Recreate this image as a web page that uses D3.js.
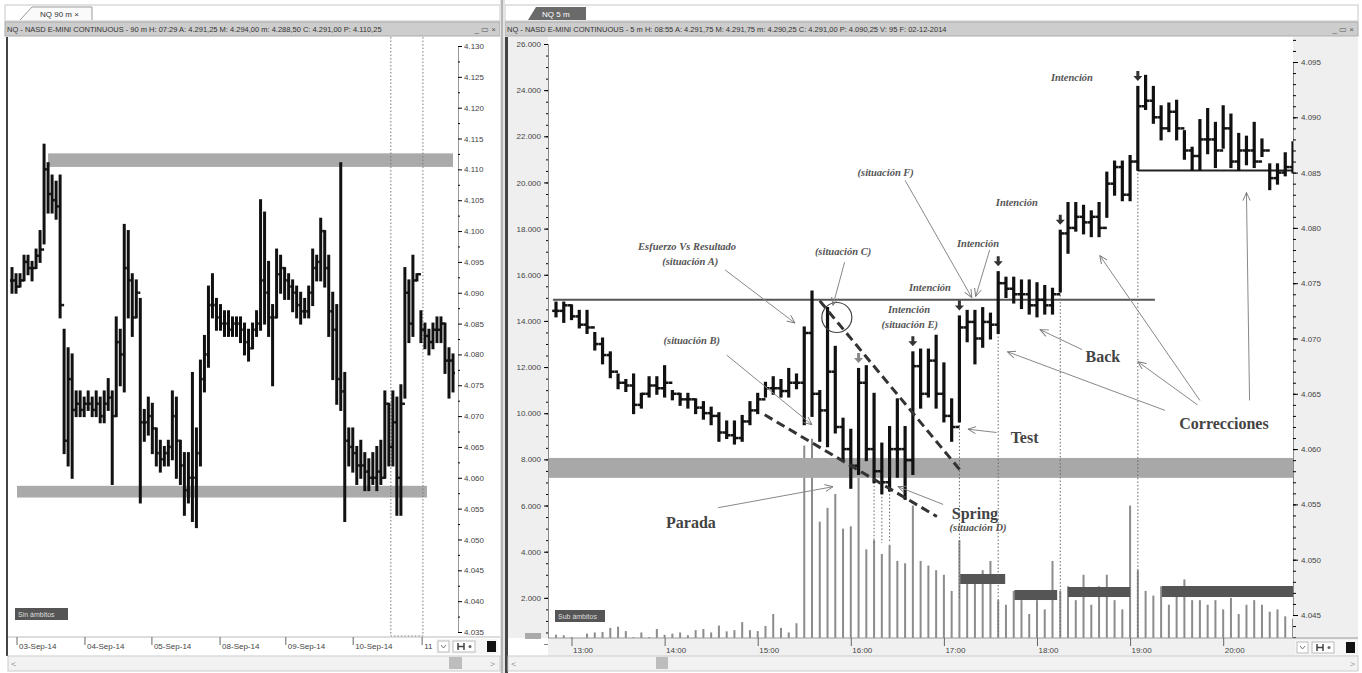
<!DOCTYPE html>
<html>
<head>
<meta charset="utf-8">
<script src="https://cdn.jsdelivr.net/npm/d3@7"></script>
<style>
  body { margin: 0; background: #fff; }
  svg { display: block; }
</style>
</head>
<body>
<svg id="chart" width="1362" height="673"></svg>
<script>
// ---------- data: left panel (NQ 90 m) ----------
const leftHigh = [4094,4093,4093,4096,4096,4095,4097,4100,4114,4111,4109,4108,4109,4084,4081,4080,4074,4074,4073,4074,4073,4074,4073,4074,4076,4074,4086,4084,4101,4100,4093,4092,4089,4071,4073,4072,4068,4066,4065,4066,4074,4073,4066,4064,4064,4077,4068,4079,4083,4091,4093,4089,4088,4087,4087,4086,4086,4086,4085,4084,4085,4087,4105,4103,4095,4088,4097,4096,4094,4093,4092,4091,4090,4089,4091,4097,4096,4102,4100,4096,4090,4088,4111,4077,4068,4068,4065,4066,4064,4063,4064,4065,4066,4074,4072,4074,4073,4075,4094,4092,4096,4093,4087,4085,4084,4085,4086,4086,4085,4081,4080];
const leftLow = [4090,4090,4091,4092,4093,4092,4094,4095,4098,4103,4103,4102,4086,4064,4062,4060,4070,4070,4070,4071,4070,4070,4069,4069,4071,4059,4070,4075,4074,4086,4083,4086,4056,4066,4067,4064,4062,4061,4062,4062,4063,4060,4059,4054,4056,4053,4052,4062,4074,4078,4086,4084,4084,4083,4083,4083,4083,4082,4080,4079,4081,4083,4084,4085,4083,4075,4086,4090,4089,4089,4087,4086,4085,4086,4086,4088,4092,4092,4091,4083,4076,4072,4071,4053,4062,4061,4059,4060,4058,4058,4059,4058,4059,4060,4062,4062,4054,4054,4073,4082,4083,4092,4082,4081,4080,4081,4082,4082,4077,4073,4074];
const leftClose = [4092,4091,4092,4095,4094,4094,4096,4097,4110,4106,4105,4104,4088,4066,4076,4071,4072,4071,4072,4072,4071,4072,4070,4072,4073,4070,4082,4080,4094,4092,4086,4090,4069,4069,4070,4068,4064,4063,4064,4065,4070,4066,4062,4058,4060,4060,4064,4076,4080,4088,4088,4086,4085,4085,4084,4085,4085,4084,4082,4081,4084,4085,4092,4090,4086,4086,4093,4094,4092,4091,4090,4088,4087,4087,4090,4094,4095,4100,4094,4087,4084,4076,4074,4066,4065,4064,4062,4062,4061,4060,4060,4061,4060,4072,4065,4069,4060,4072,4090,4085,4092,4093,4084,4083,4082,4084,4084,4085,4079,4079,4077];
const leftDateLabels = ['03-Sep-14','04-Sep-14','05-Sep-14','08-Sep-14','09-Sep-14','10-Sep-14','11'];
const leftDateBars = [1.25, 18.2, 34.9, 51.9, 68.3, 85.1, 102.3];
const leftPriceTicks = d3.range(4035, 4131, 5);
// grey zones: [fromBar, toBar, lowPrice, highPrice]
const leftZones = [[9, 110, 4110.4, 4112.6], [1.25, 103.5, 4056.8, 4058.7]];
const leftBox = [94.5, 102.5];

// ---------- data: right panel (NQ 5 m) ----------
const rightHigh = [4073.25,4073.25,4073,4072.5,4072.5,4070.5,4070,4068.75,4066.75,4066.25,4066.75,4065,4066.5,4066.5,4067.5,4065.25,4065,4065,4064.5,4064.25,4063.75,4063.25,4062.5,4062.5,4063,4064.25,4065,4066,4066.5,4066.25,4067.25,4066.75,4071,4074.25,4065.25,4072.75,4069.25,4062.75,4061.75,4067.25,4067.5,4065,4060.5,4062,4064.5,4062,4068.75,4069,4069,4070.25,4067.75,4064.5,4072,4072.5,4072.5,4072.75,4072.25,4076,4075.5,4075.5,4075.25,4075.25,4075,4074.75,4074.5,4079.75,4082.25,4082.25,4082,4081.5,4082.25,4085,4086,4086,4086.5,4092.75,4093.75,4092.75,4091,4091.25,4091.5,4088.75,4087.25,4089.75,4090.75,4089.5,4091,4090.25,4088.5,4088.25,4089.5,4088,4085.75,4085.75,4086.75,4087.75];
const rightLow = [4072,4071.5,4071.75,4071,4070.5,4069,4067.75,4066.5,4065.5,4065.25,4063.25,4063.75,4064.75,4065,4064.75,4064.5,4064,4063.75,4063.25,4062.75,4062.25,4060.75,4061,4060.5,4060.75,4062.25,4063.25,4064.75,4065,4064.75,4064.75,4065.5,4062.25,4063,4060.75,4060.25,4061.5,4059,4056.5,4057.75,4059,4057,4056,4056.25,4057.5,4055.5,4057.75,4063.75,4064.75,4063.75,4062.5,4060.75,4062.5,4069.75,4067.75,4069.25,4070,4070.5,4073.75,4073.25,4072.75,4072.25,4072,4072.25,4072.25,4074.25,4077.75,4079.75,4079.5,4079.25,4079.25,4081,4083,4082.5,4082.5,4085.25,4090.75,4089.5,4088,4088.75,4088,4086.25,4085.25,4085.25,4086.75,4085.5,4087.25,4085.5,4085.25,4085.75,4085.5,4086.5,4083.5,4084,4084.75,4085];
const rightClose = [4072.5,4073,4072,4071.25,4071,4069.5,4068.5,4067,4066,4065.75,4064,4065,4065.75,4065.5,4066,4065,4064.5,4064.5,4063.75,4063.25,4063,4061.5,4061.25,4061,4062.5,4063.5,4064.5,4065.5,4065.5,4065.25,4066,4066,4070.5,4065,4063.5,4067,4062,4060,4058.5,4066,4060,4058,4057,4060,4060,4059,4067.5,4065,4068,4065,4063,4062,4071,4071.5,4070,4071.5,4071.25,4075,4074.5,4074,4074,4073,4073.5,4073,4074,4079.5,4080,4081,4080.5,4081,4080,4084,4085.5,4083,4086,4091,4091.5,4090,4089,4090.5,4089,4087,4086.5,4088,4088,4087,4089,4086,4087,4087,4086,4087,4084.5,4085,4085.5,4087];
const rightVolume = [400,380,300,250,450,500,520,700,750,560,300,500,300,650,400,450,500,380,600,650,500,800,550,600,950,600,560,780,1300,700,500,900,8600,8900,5300,5900,6500,5000,5100,7200,4100,4500,3900,4300,3600,3500,6000,3600,3400,3200,3000,2300,4500,3000,2800,3200,3600,1900,1700,2300,1900,1300,1900,1500,3600,2300,2500,1900,3000,1700,2500,3000,1900,1500,6000,3200,2300,2100,2500,1700,2100,2800,1900,1900,1700,1900,1500,2000,1300,1700,1900,1700,1400,1500,1200,1100];
const rightPriceTicks = d3.range(4045, 4096, 5);
const volumeTicks = d3.range(2000, 26001, 2000);
const firstBarTime = new Date(2014, 11, 2, 12, 50);

// annotation layer, in [bar, price]
const supportLines = [[-0.4, 77.2, 4073.5, '#555'], [75, 95.5, 4085.2, '#222']];
const rightZone = [4057.4, 4059.2];
const dashedLines = [[34.0, 4073.4, 52.1, 4058.1], [26.9, 4063.1, 49.1, 4053.9]];
const circleMark = [36.2, 4071.9];
const intentBars = [39, 46, 52, 57, 65, 75];
const dottedBars = [[41, 4051.5], [42, 4051.5], [43, 4051.5], [52, 4046.5], [57, 4042.5], [65, 4041.5], [75, 4041.5]];
const arrows = [
  [21.8, 4076.2, 30.8, 4071.4], [22.0, 4068.5, 33.0, 4062.2], [37.2, 4076.9, 35.7, 4073.0],
  [45.0, 4084.3, 53.6, 4073.7], [55.9, 4078.0, 54.1, 4073.8], [20.9, 4054.7, 35.7, 4056.6],
  [49.9, 4055.0, 44.1, 4056.6], [56.8, 4061.5, 53.1, 4061.8], [67.8, 4069.0, 62.4, 4070.8],
  [78.5, 4063.5, 58.2, 4068.8], [82.7, 4064.0, 75.0, 4067.9], [83.0, 4064.4, 70.1, 4077.5],
  [89.4, 4064.4, 89.0, 4083.2]
];
const smallNotes = [
  ['Esfuerzo Vs Resultado', 16.9, 4078.3], ['(situación A)', 17.3, 4077.0], ['(situación B)', 17.5, 4069.8],
  ['(situación C)', 37.0, 4077.9], ['(situación F)', 42.5, 4085.0], ['Intención', 66.5, 4093.6],
  ['Intención', 59.4, 4082.3], ['Intención', 54.4, 4078.6], ['Intención', 48.2, 4074.6],
  ['Intención', 45.5, 4072.6], ['(situación E)', 45.6, 4071.3], ['(situación D)', 54.4, 4052.9]
];
const bigNotes = [
  ['Test', 60.4, 4061.1], ['Spring', 54.0, 4054.2], ['Parada', 17.4, 4053.4],
  ['Back', 70.5, 4068.4], ['Correcciones', 86.1, 4062.3]
];
// dark volume level boxes: [fromBar, toBar, volLow, volHigh]
const volumeBoxes = [[52.1, 57.9, 2600, 3033], [59.1, 64.6, 1906, 2340], [66.0, 74.0, 2036, 2470], [78.1, 95, 2036, 2513]];

const loc = d3.formatLocale({decimal: ',', thousands: '.', grouping: [3], currency: ['', '']});
const fmt = loc.format(',');
const svg = d3.select('#chart');
const sans = 'Liberation Sans, Arial, sans-serif';
const serif = 'Liberation Serif, Times New Roman, serif';

// ---------- window chrome ----------
function chrome(x0, x1, title, tabX, tabText, darkTab) {
  svg.append('rect').attr('x', x0).attr('y', 5).attr('width', x1 - x0).attr('height', 16)
    .attr('fill', '#fff').attr('stroke', '#c8c8c8');
  if (darkTab) {
    svg.append('path').attr('d', `M${tabX},20 L${tabX + 8},7 L${tabX + 58},7 L${tabX + 58},20 Z`).attr('fill', '#6a6a6a');
    svg.append('text').attr('x', tabX + 14).attr('y', 17).attr('fill', '#fff').attr('font-size', 8).attr('font-family', sans).text(tabText);
  } else {
    svg.append('path').attr('d', `M${tabX},20 L${tabX + 12},7 L${tabX + 72},7 L${tabX + 72},20`).attr('fill', '#fafafa').attr('stroke', '#999');
    svg.append('text').attr('x', tabX + 20).attr('y', 17).attr('fill', '#333').attr('font-size', 8).attr('font-family', sans).text(tabText);
  }
  svg.append('rect').attr('x', x0).attr('y', 22).attr('width', x1 - x0).attr('height', 14)
    .attr('fill', '#cdcdcd').attr('stroke', '#aaa');
  svg.append('text').attr('x', x0 + 2).attr('y', 32).attr('font-size', 7.5).attr('font-family', sans)
    .attr('fill', '#333').text(title);
  svg.append('text').attr('x', x1 - 4).attr('y', 32).attr('text-anchor', 'end').attr('font-size', 8)
    .attr('font-family', sans).attr('fill', '#555').text('_ ▭ ×');
}
chrome(5, 500, 'NQ - NASD E-MINI CONTINUOUS - 90 m  H: 07:29  A: 4.291,25  M: 4.294,00  m: 4.288,50  C: 4.291,00  P: 4.110,25', 20, 'NQ 90 m  ×', false);
chrome(505, 1358, 'NQ - NASD E-MINI CONTINUOUS - 5 m  H: 08:55  A: 4.291,75  M: 4.291,75  m: 4.290,25  C: 4.291,00  P: 4.090,25  V: 95  F: 02-12-2014', 528, 'NQ 5 m', true);
svg.append('rect').attr('x', 500).attr('y', 0).attr('width', 5).attr('height', 673).attr('fill', '#e4e4e4');
svg.append('line').attr('x1', 502).attr('x2', 502).attr('y1', 0).attr('y2', 673).attr('stroke', '#888');

// small zoom controls in the bottom right corner of a panel (drawn as shapes)
function controls(x, y) {
  const g = svg.append('g').attr('transform', `translate(${x},${y})`);
  g.append('rect').attr('width', 62).attr('height', 15).attr('fill', '#f6f6f6');
  g.append('rect').attr('x', 2).attr('y', 2).attr('width', 11).attr('height', 11).attr('fill', '#fff').attr('stroke', '#bbb');
  g.append('path').attr('d', 'M5,6 l2.5,3 l2.5,-3').attr('fill', 'none').attr('stroke', '#777');
  g.append('rect').attr('x', 17).attr('y', 2).attr('width', 22).attr('height', 11).attr('fill', '#fff').attr('stroke', '#bbb');
  g.append('path').attr('d', 'M22,4 v7 M22,7.5 h6 M28,4 v7').attr('stroke', '#444').attr('stroke-width', 1.5);
  g.append('circle').attr('cx', 34).attr('cy', 7.5).attr('r', 1.5).attr('fill', '#666');
  g.append('rect').attr('x', 51).attr('y', 2).attr('width', 9).attr('height', 11).attr('fill', '#111');
}

// OHLC bars drawn as vertical line + open/close ticks
function drawOHLC(g, x, y, hi, lo, cl, tick, width) {
  const bars = d3.range(hi.length).map(i => ({i, h: hi[i], l: lo[i], c: cl[i], o: i ? cl[i - 1] : cl[i]}));
  const sel = g.selectAll('g.bar').data(bars).join('g').attr('class', 'bar');
  sel.append('line').attr('x1', d => x(d.i)).attr('x2', d => x(d.i))
    .attr('y1', d => y(d.h) - 1).attr('y2', d => y(d.l) + 1)
    .attr('stroke', '#111').attr('stroke-width', width);
  sel.append('line').attr('x1', d => x(d.i) - tick).attr('x2', d => x(d.i))
    .attr('y1', d => y(d.o)).attr('y2', d => y(d.o)).attr('stroke', '#111').attr('stroke-width', 2.5);
  sel.append('line').attr('x1', d => x(d.i)).attr('x2', d => x(d.i) + tick)
    .attr('y1', d => y(d.c)).attr('y2', d => y(d.c)).attr('stroke', '#111').attr('stroke-width', 2.5);
}

// ---------- left panel ----------
const lx = d3.scaleLinear().domain([0, leftHigh.length - 1]).range([12, 453]);
const ly = d3.scaleLinear().domain([4035, 4130]).range([632, 46]);
const left = svg.append('g');
left.append('rect').attr('x', 6).attr('y', 37).attr('width', 2).attr('height', 619).attr('fill', '#444');
left.append('defs').append('clipPath').attr('id', 'clipL').append('rect')
  .attr('x', 8).attr('y', 37).attr('width', 450).attr('height', 600);
const lPlot = left.append('g').attr('clip-path', 'url(#clipL)');

lPlot.selectAll('rect.zone').data(leftZones).join('rect').attr('class', 'zone')
  .attr('x', d => lx(d[0])).attr('width', d => lx(d[1]) - lx(d[0]))
  .attr('y', d => ly(d[3])).attr('height', d => ly(d[2]) - ly(d[3])).attr('fill', '#aaa');
lPlot.append('path')
  .attr('d', `M${lx(leftBox[0])},37 V636 H${lx(leftBox[1])} V37`)
  .attr('fill', 'none').attr('stroke', '#777').attr('stroke-dasharray', '1.5,2');
drawOHLC(lPlot.append('g'), lx, ly, leftHigh, leftLow, leftClose, 2, 3);

left.append('g').attr('transform', 'translate(458,0)')
  .call(d3.axisRight(ly).tickValues(leftPriceTicks).tickSize(4).tickFormat(d => fmt(d)))
  .call(g => g.select('.domain').attr('stroke', '#999'))
  .call(g => g.selectAll('text').attr('font-size', 8).attr('font-family', sans).attr('fill', '#444').attr('dx', -1));
left.append('g').attr('transform', 'translate(458,0)')
  .call(d3.axisRight(ly).tickValues(d3.range(4037.5, 4130, 5)).tickSize(2).tickFormat(''))
  .call(g => g.select('.domain').remove());

// date axis
left.append('line').attr('x1', 8).attr('x2', 500).attr('y1', 637).attr('y2', 637).attr('stroke', '#bbb');
const lDates = left.selectAll('g.date').data(leftDateBars).join('g').attr('class', 'date')
  .attr('transform', d => `translate(${lx(d)},637)`);
lDates.append('line').attr('y2', 8).attr('stroke', '#666');
lDates.append('text').attr('x', 2).attr('y', 12).attr('font-size', 8).attr('font-family', sans)
  .attr('fill', '#444').text((d, i) => leftDateLabels[i]);
controls(436, 639);
left.append('rect').attr('x', 8).attr('y', 656).attr('width', 492).attr('height', 15).attr('fill', '#f2f2f2').attr('stroke', '#ccc');
left.append('rect').attr('x', 449).attr('y', 657).attr('width', 13).attr('height', 12).attr('fill', '#bdbdbd');
left.append('text').attr('x', 11).attr('y', 667).attr('font-size', 9).attr('fill', '#555').text('<');
left.append('text').attr('x', 490).attr('y', 667).attr('font-size', 9).attr('fill', '#555').text('>');
left.append('rect').attr('x', 15).attr('y', 608).attr('width', 53).attr('height', 12).attr('fill', '#555');
left.append('text').attr('x', 18).attr('y', 617).attr('font-size', 7).attr('font-family', sans).attr('fill', '#ddd').text('Sin ámbitos');

// ---------- right panel ----------
const rx = d3.scaleLinear().domain([0, rightHigh.length - 1]).range([556, 1293]);
const ry = d3.scaleLinear().domain([4045, 4095]).range([615, 62]);
const vy = d3.scaleLinear().domain([0, 26000]).range([644, 44]);
const barMs = 5 * 60 * 1000;
const tx = d3.scaleTime()
  .domain([new Date(+firstBarTime - barMs), new Date(+firstBarTime + rightHigh.length * barMs)])
  .range([rx(-1), rx(rightHigh.length)]);

const right = svg.append('g');
right.append('rect').attr('x', 505).attr('y', 37).attr('width', 43).attr('height', 601).attr('fill', '#efefef');
right.append('rect').attr('x', 1293).attr('y', 37).attr('width', 65).attr('height', 601).attr('fill', '#efefef');
right.append('rect').attr('x', 505).attr('y', 37).attr('width', 3).attr('height', 636).attr('fill', '#444');
right.append('defs').append('clipPath').attr('id', 'clipR').append('rect')
  .attr('x', 548).attr('y', 37).attr('width', 745).attr('height', 601);
const rPlot = right.append('g').attr('clip-path', 'url(#clipR)');

// volume
rPlot.selectAll('rect.vol').data(rightVolume).join('rect').attr('class', 'vol')
  .attr('x', (d, i) => rx(i) - 1).attr('width', 2)
  .attr('y', d => vy(d)).attr('height', d => vy(0) - vy(d)).attr('fill', '#8c8c8c');
rPlot.selectAll('rect.vbox').data(volumeBoxes).join('rect').attr('class', 'vbox')
  .attr('x', d => rx(d[0])).attr('width', d => rx(d[1]) - rx(d[0]))
  .attr('y', d => vy(d[3])).attr('height', d => vy(d[2]) - vy(d[3])).attr('fill', '#555');

// zones and lines
rPlot.append('rect').attr('x', 548).attr('width', 745)
  .attr('y', ry(rightZone[1])).attr('height', ry(rightZone[0]) - ry(rightZone[1])).attr('fill', '#a8a8a8');
rPlot.selectAll('line.sup').data(supportLines).join('line').attr('class', 'sup')
  .attr('x1', d => rx(d[0])).attr('x2', d => rx(d[1])).attr('y1', d => ry(d[2])).attr('y2', d => ry(d[2]))
  .attr('stroke', d => d[3]).attr('stroke-width', 2);
rPlot.selectAll('line.dot').data(dottedBars).join('line').attr('class', 'dot')
  .attr('x1', d => rx(d[0])).attr('x2', d => rx(d[0]))
  .attr('y1', d => ry(rightLow[d[0]])).attr('y2', d => ry(d[1]))
  .attr('stroke', '#666').attr('stroke-dasharray', '1.5,2');

drawOHLC(rPlot.append('g'), rx, ry, rightHigh, rightLow, rightClose, 3.8, 3.2);

rPlot.selectAll('line.dash').data(dashedLines).join('line').attr('class', 'dash')
  .attr('x1', d => rx(d[0])).attr('y1', d => ry(d[1])).attr('x2', d => rx(d[2])).attr('y2', d => ry(d[3]))
  .attr('stroke', '#333').attr('stroke-width', 3).attr('stroke-dasharray', '9,5');
rPlot.append('circle').attr('cx', rx(circleMark[0])).attr('cy', ry(circleMark[1])).attr('r', 15)
  .attr('fill', 'none').attr('stroke', '#444').attr('stroke-width', 1.2);

// intention markers
rPlot.selectAll('path.intent').data(intentBars).join('path').attr('class', 'intent')
  .attr('d', d => {
    const x = rx(d), y = ry(rightHigh[d]) - 6;
    return `M${x - 1.5},${y - 10} h3 v5 h3 l-4.5,5 l-4.5,-5 h3 z`;
  })
  .attr('fill', (d, i) => i === 0 ? '#888' : '#333');

// arrows
const defs = svg.append('defs');
defs.append('marker').attr('id', 'arr').attr('viewBox', '0 0 10 10').attr('refX', 9).attr('refY', 5)
  .attr('markerWidth', 9).attr('markerHeight', 9).attr('orient', 'auto')
  .append('path').attr('d', 'M0,1 L9,5 L0,9').attr('fill', 'none').attr('stroke', '#777').attr('stroke-width', 1);
rPlot.selectAll('line.arrow').data(arrows).join('line').attr('class', 'arrow')
  .attr('x1', d => rx(d[0])).attr('y1', d => ry(d[1])).attr('x2', d => rx(d[2])).attr('y2', d => ry(d[3]))
  .attr('stroke', '#888').attr('stroke-width', 1).attr('marker-end', 'url(#arr)');

// notes
rPlot.selectAll('text.small').data(smallNotes).join('text').attr('class', 'small')
  .attr('x', d => rx(d[1])).attr('y', d => ry(d[2])).attr('dy', '0.35em').attr('text-anchor', 'middle')
  .attr('font-family', serif).attr('font-style', 'italic').attr('font-weight', 'bold')
  .attr('font-size', 10.5).attr('fill', '#555').text(d => d[0]);
rPlot.selectAll('text.big').data(bigNotes).join('text').attr('class', 'big')
  .attr('x', d => rx(d[1])).attr('y', d => ry(d[2])).attr('dy', '0.35em').attr('text-anchor', 'middle')
  .attr('font-family', serif).attr('font-weight', 'bold')
  .attr('font-size', 16).attr('fill', '#444').text(d => d[0]);

// axes
right.append('g').attr('transform', 'translate(1293,0)')
  .call(d3.axisRight(ry).tickValues(rightPriceTicks).tickSize(5).tickFormat(d => fmt(d)))
  .call(g => g.select('.domain').attr('stroke', '#888'))
  .call(g => g.selectAll('text').attr('font-size', 8).attr('font-family', sans).attr('fill', '#444'));
right.append('g').attr('transform', 'translate(1293,0)')
  .call(d3.axisRight(ry).tickValues(d3.range(4042, 4098, 1)).tickSize(3).tickFormat(''))
  .call(g => g.select('.domain').remove());
right.append('g').attr('transform', 'translate(548,0)')
  .call(d3.axisLeft(vy).tickValues(volumeTicks).tickSize(4).tickFormat(d => fmt(d)))
  .call(g => g.select('.domain').attr('stroke', '#888'))
  .call(g => g.selectAll('text').attr('font-size', 8).attr('font-family', sans).attr('fill', '#444'));
right.append('g').attr('transform', 'translate(548,0)')
  .call(d3.axisLeft(vy).tickValues(d3.range(500, 26000, 500)).tickSize(2).tickFormat(''))
  .call(g => g.select('.domain').remove());
right.append('rect').attr('x', 525).attr('y', 633).attr('width', 16).attr('height', 6).attr('fill', '#aaa');

right.append('rect').attr('x', 548).attr('y', 638).attr('width', 810).attr('height', 18).attr('fill', '#f0f0f0');
right.append('line').attr('x1', 548).attr('x2', 1358).attr('y1', 638).attr('y2', 638).attr('stroke', '#999');
right.append('g').attr('transform', 'translate(0,638)')
  .call(d3.axisBottom(tx).ticks(d3.timeHour.every(1)).tickSize(8).tickFormat(d3.timeFormat('%H:%M')))
  .call(g => g.select('.domain').remove())
  .call(g => g.selectAll('line').attr('stroke', '#666'))
  .call(g => g.selectAll('text').attr('font-size', 8).attr('font-family', sans).attr('fill', '#444')
    .attr('text-anchor', 'start').attr('dx', 1).attr('dy', '0.5em'));
controls(1295, 640);
right.append('rect').attr('x', 508).attr('y', 656).attr('width', 850).attr('height', 15).attr('fill', '#f2f2f2').attr('stroke', '#ccc');
right.append('rect').attr('x', 656).attr('y', 657).attr('width', 12).attr('height', 12).attr('fill', '#bdbdbd');
right.append('text').attr('x', 511).attr('y', 667).attr('font-size', 9).attr('fill', '#555').text('<');
right.append('text').attr('x', 1350).attr('y', 667).attr('font-size', 9).attr('fill', '#555').text('>');
right.append('rect').attr('x', 555).attr('y', 610).attr('width', 50).attr('height', 12).attr('fill', '#555');
right.append('text').attr('x', 558).attr('y', 619).attr('font-size', 7).attr('font-family', sans).attr('fill', '#ddd').text('Sub ámbitos');
</script>
</body>
</html>
